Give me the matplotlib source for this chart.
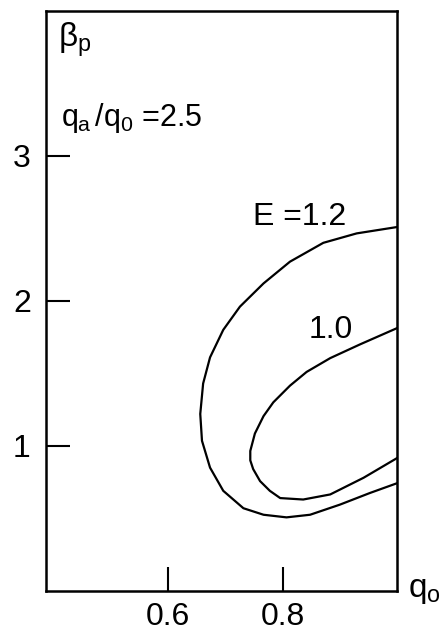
import matplotlib
matplotlib.use("Agg")
import matplotlib.pyplot as plt

# contour E = 1.2 (traced from upper right end round to lower right end)
e12_q = [1.0, 0.928, 0.870, 0.812, 0.766, 0.725, 0.696, 0.673, 0.661, 0.656,
         0.659, 0.673, 0.696, 0.731, 0.766, 0.806, 0.847, 0.899, 0.951, 1.0]
e12_beta = [2.51, 2.465, 2.40, 2.27, 2.12, 1.96, 1.80, 1.61, 1.43, 1.22,
            1.035, 0.85, 0.69, 0.57, 0.525, 0.507, 0.525, 0.595, 0.675, 0.745]

# contour E = 1.0
e10_q = [1.0, 0.934, 0.882, 0.841, 0.812, 0.783, 0.766, 0.751, 0.743,
         0.743, 0.748, 0.76, 0.777, 0.795, 0.835, 0.882, 0.94, 1.0]
e10_beta = [1.815, 1.70, 1.605, 1.51, 1.415, 1.30, 1.205, 1.085, 0.965,
            0.90, 0.84, 0.757, 0.69, 0.64, 0.63, 0.665, 0.78, 0.92]

x_ticks = [0.6, 0.8]
y_ticks = [1, 2, 3]

plt.rcParams["font.family"] = ["Liberation Sans", "DejaVu Sans"]
plt.rcParams["mathtext.fontset"] = "custom"
plt.rcParams["mathtext.rm"] = "Liberation Sans"
plt.rcParams["mathtext.it"] = "Liberation Sans"

fig = plt.figure(figsize=(4.48, 6.34), dpi=100)
ax = fig.add_axes([0.103, 0.068, 0.783, 0.915])

ax.plot(e12_q, e12_beta, color="black", lw=1.6)
ax.plot(e10_q, e10_beta, color="black", lw=1.6)

ax.set_xlim(0.388, 0.998)
ax.set_ylim(0, 4.0)
ax.set_xticks(x_ticks)
ax.set_xticklabels(["0.6", "0.8"])
ax.set_yticks(y_ticks)
ax.set_yticklabels(["1", "2", "3"])
ax.tick_params(direction="in", length=17, width=1.5, labelsize=23)
ax.tick_params(axis="x", pad=8)
ax.tick_params(axis="y", pad=11)
for s in ax.spines.values():
    s.set_linewidth(1.8)

ax.text(0.409, 3.80, r"$\beta_p$", fontsize=24, va="center")
ax.text(0.414, 3.26, r"$q_a\,/q_0$ =2.5", fontsize=22, va="center")
ax.text(0.748, 2.58, "E =1.2", fontsize=23, va="center")
ax.text(0.845, 1.80, "1.0", fontsize=23, va="center")
ax.text(1.018, 0.0, r"$q_o$", fontsize=24, va="center")

fig.savefig("out.png", dpi=100)
